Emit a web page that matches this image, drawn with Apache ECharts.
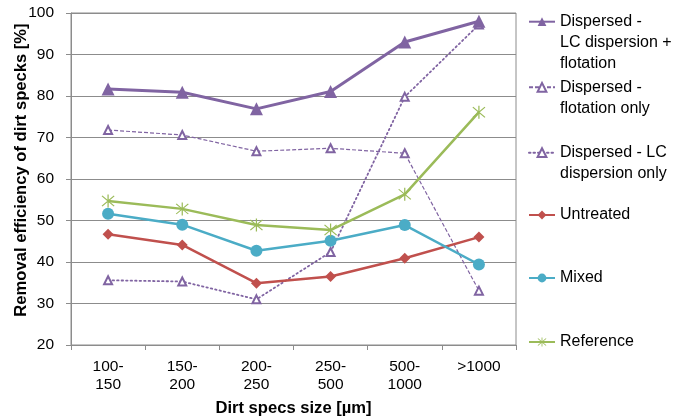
<!DOCTYPE html>
<html><head><meta charset="utf-8">
<script src="https://cdn.jsdelivr.net/npm/echarts@6/dist/echarts.min.js"></script>
<style>html,body{margin:0;padding:0;background:#fff}#c{width:675px;height:419px}</style>
</head><body><div id="c"></div>
<script>
const categories = ['100-\n150', '150-\n200', '200-\n250', '250-\n500', '500-\n1000', '>1000'];
const yTicks = { min: 20, max: 100, interval: 10 };
const seriesNames = [
  'Dispersed - LC dispersion + flotation',
  'Dispersed - flotation only',
  'Dispersed - LC dispersion only',
  'Untreated',
  'Mixed',
  'Reference'
];
const legendLines = [
  ['Dispersed -', 'LC dispersion +', 'flotation'],
  ['Dispersed -', 'flotation only'],
  ['Dispersed - LC', 'dispersion only'],
  ['Untreated'],
  ['Mixed'],
  ['Reference']
];
const lcFlot    = [81.7, 80.9, 76.9, 81.1, 93.0, 98.0];
const flotOnly  = [71.8, 70.6, 66.7, 67.4, 66.2, 33.1];
const lcOnly    = [35.6, 35.3, 31.0, 42.4, 79.8, 97.2];
const untreated = [46.7, 44.1, 34.9, 36.5, 40.9, 46.0];
const mixed     = [51.6, 49.0, 42.7, 45.1, 48.9, 39.4];
const reference = [54.7, 52.8, 48.9, 47.7, 56.3, 76.1];

const FONT = "'Liberation Sans', Arial, sans-serif";
const PURPLE = '#8064a2', RED = '#c0504d', BLUE = '#4bacc6', GREEN = '#9bbb59';
const GRID = '#8c8c8c';
const STAR = 'path://M9.2,0 L10.8,0 L10.8,20 L9.2,20 Z M1.6,2.7 L2.7,1.6 L18.4,17.3 L17.3,18.4 Z M17.3,1.6 L18.4,2.7 L2.7,18.4 L1.6,17.3 Z';

const LH = 21;
const firstLineY = [21.7, 87.3, 152.7, 215, 278, 342];
const legends = seriesNames.map((name, i) => {
  const n = legendLines[i].length;
  const text = '\n'.repeat(n - 1) + legendLines[i].join('\n');
  return {
    orient: 'vertical',
    left: 528,
    top: firstLineY[i] - (2 * n - 1) * LH / 2,
    padding: 0,
    itemWidth: 26,
    itemHeight: 11,
    itemGap: 0,
    data: [name],
    formatter: () => text,
    textStyle: { fontFamily: FONT, fontSize: 16, color: '#000', lineHeight: LH }
  };
});

const chart = echarts.init(document.getElementById('c'));
chart.setOption({
  animation: false,
  backgroundColor: '#fff',
  grid: { left: 71, right: 159, top: 13, bottom: 74, show: true, borderColor: GRID, borderWidth: 1,
          containLabel: false, outerBoundsMode: 'none' },
  legend: legends,
  xAxis: {
    type: 'category',
    data: categories,
    boundaryGap: true,
    name: 'Dirt specs size [µm]',
    nameLocation: 'middle',
    nameGap: 55,
    nameMoveOverlap: false,
    nameTextStyle: { fontFamily: FONT, fontSize: 16.6, fontWeight: 'bold', color: '#000' },
    axisLine: { lineStyle: { color: GRID, width: 1 } },
    axisTick: { show: true, length: 5, lineStyle: { color: GRID } },
    axisLabel: { interval: 0, margin: 13, fontFamily: FONT, fontSize: 15.5, color: '#000', lineHeight: 18 }
  },
  yAxis: {
    type: 'value',
    min: yTicks.min, max: yTicks.max, interval: yTicks.interval,
    name: 'Removal efficiency of dirt specks [%]',
    nameLocation: 'middle',
    nameGap: 41,
    nameMoveOverlap: false,
    nameTextStyle: { fontFamily: FONT, fontSize: 16.6, fontWeight: 'bold', color: '#000', padding: [0, 0, 0, 18] },
    axisLine: { show: true, lineStyle: { color: GRID, width: 1 } },
    axisTick: { show: true, length: 5, lineStyle: { color: GRID } },
    splitLine: { show: true, lineStyle: { color: GRID, width: 1 } },
    axisLabel: { margin: 17, fontFamily: FONT, fontSize: 15.5, color: '#000' }
  },
  series: [
    { name: seriesNames[0], type: 'line', data: lcFlot, symbol: 'triangle', symbolSize: 13,
      lineStyle: { color: PURPLE, width: 3 }, itemStyle: { color: PURPLE }, z: 6 },
    { name: seriesNames[1], type: 'line', data: flotOnly, symbol: 'emptyTriangle', symbolSize: 8,
      lineStyle: { color: PURPLE, width: 1.2, type: [4, 2] }, itemStyle: { color: PURPLE, borderWidth: 1.2 }, z: 3 },
    { name: seriesNames[2], type: 'line', data: lcOnly, symbol: 'emptyTriangle', symbolSize: 8,
      lineStyle: { color: PURPLE, width: 1.8, type: [1.5, 3], cap: 'round' }, itemStyle: { color: PURPLE, borderWidth: 1.2 }, z: 3 },
    { name: seriesNames[3], type: 'line', data: untreated, symbol: 'diamond', symbolSize: 11,
      lineStyle: { color: RED, width: 2.5 }, itemStyle: { color: RED }, z: 5 },
    { name: seriesNames[4], type: 'line', data: mixed, symbol: 'circle', symbolSize: 12,
      lineStyle: { color: BLUE, width: 2.5 }, itemStyle: { color: BLUE }, z: 5 },
    { name: seriesNames[5], type: 'line', data: reference, symbol: STAR, symbolSize: 13,
      lineStyle: { color: GREEN, width: 2.5 }, itemStyle: { color: GREEN }, z: 5 }
  ]
});
</script>
</body></html>
